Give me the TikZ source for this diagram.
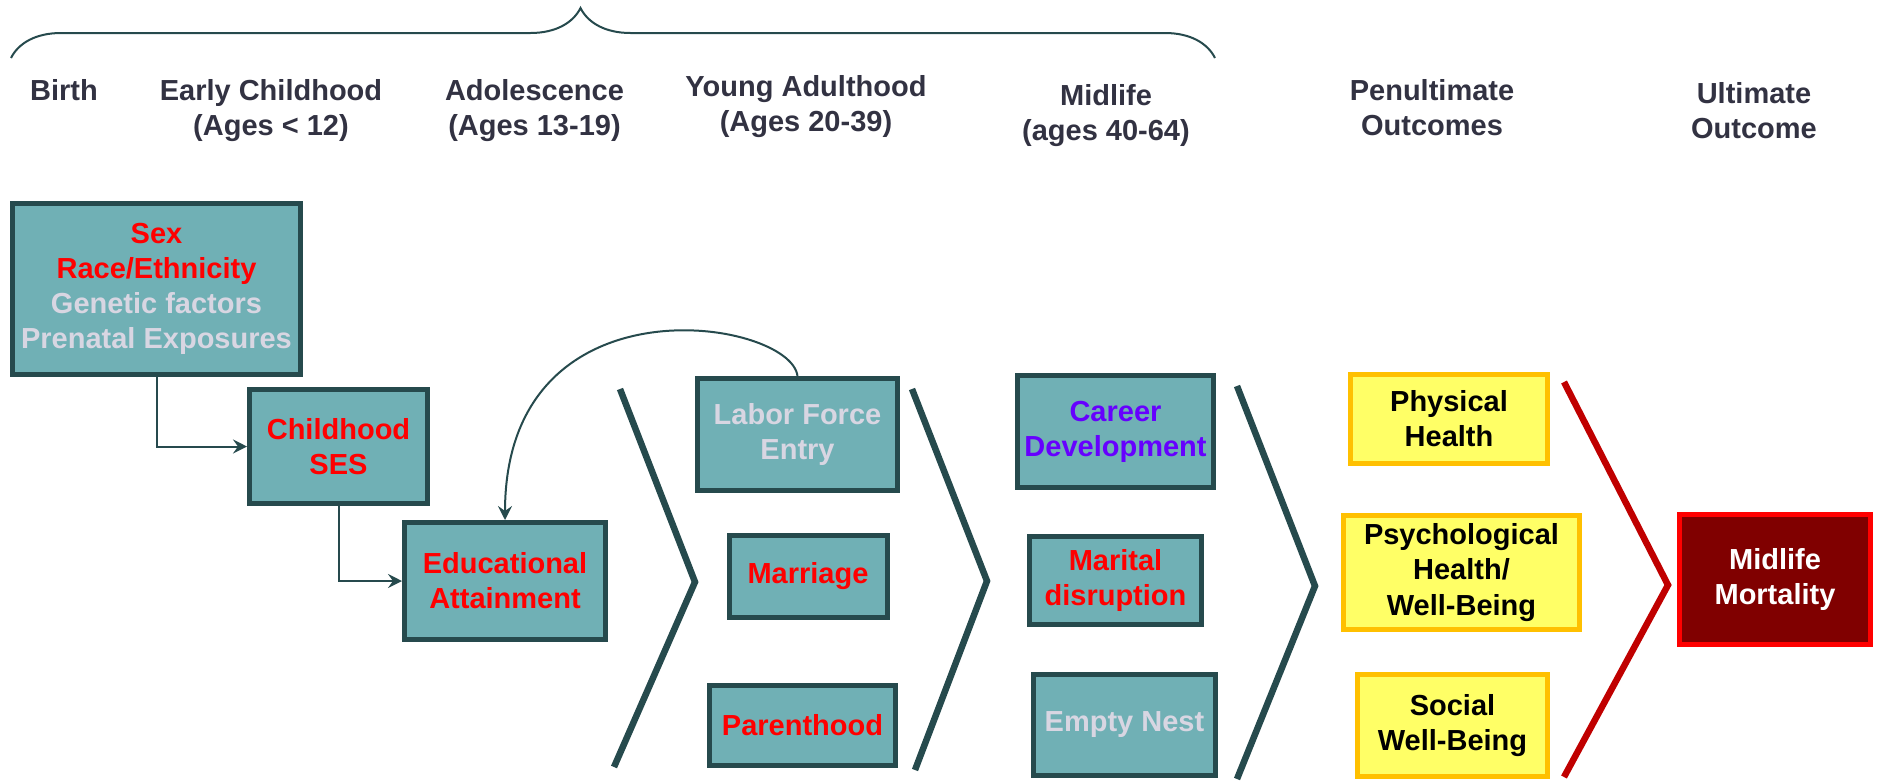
\documentclass[tikz,border=0pt]{standalone}
\usepackage{fontspec}
\setmainfont{Liberation Sans}
\usepackage{xcolor}
\usetikzlibrary{arrows.meta,decorations.pathreplacing}

\definecolor{boxfill}{RGB}{112,176,181}
\definecolor{boxline}{RGB}{38,74,77}
\definecolor{headtext}{RGB}{50,50,66}
\definecolor{softtext}{RGB}{216,214,226}
\definecolor{purp}{RGB}{102,0,255}
\definecolor{lemon}{RGB}{255,255,102}
\definecolor{gold}{RGB}{255,192,0}
\definecolor{mortfill}{RGB}{128,0,0}
\definecolor{chevred}{RGB}{192,0,0}

\begin{document}
\begin{tikzpicture}[
    font={\fontsize{8.25}{10}\selectfont\bfseries},
    head/.style={text=headtext, align=center, inner sep=0pt},
    stage/.style={draw=boxline, fill=boxfill, line width=0.05cm, align=center, inner sep=0pt},
    outc/.style={draw=gold, fill=lemon, line width=0.05cm, align=center, inner sep=0pt},
    link/.style={draw=boxline, line width=0.02cm, -{Stealth[length=0.14cm, width=0.14cm, inset=0.05cm]}},
    chev/.style={draw=boxline, line width=0.065cm},
]
    \useasboundingbox (0,0) rectangle (18.78,7.81);

    \draw[draw=boxline, line width=0.02cm, decorate, decoration={brace, amplitude=0.5cm, aspect=0.473}] (0.11,7.23) -- (12.15,7.23);

    \node[head] (birth) at (0.64,6.905) {Birth};
    \node[head] (early) at (2.71,6.705) {Early Childhood\\(Ages < 12)};
    \node[head] (adol) at (5.345,6.705) {Adolescence\\(Ages 13-19)};
    \node[head] (young) at (8.06,6.745) {Young Adulthood\\(Ages 20-39)};
    \node[head] (mid) at (11.06,6.655) {Midlife\\(ages 40-64)};
    \node[head] (penult) at (14.32,6.735) {Penultimate\\Outcomes};
    \node[head] (ult) at (17.54,6.705) {Ultimate\\Outcome};

    \node[stage, minimum width=2.88cm, minimum height=1.71cm] (sex) at (1.565,4.92) {\textcolor{red}{Sex}\\\textcolor{red}{Race/Ethnicity}\\\textcolor{softtext}{Genetic factors}\\\textcolor{softtext}{Prenatal Exposures}};
    \node[stage, text=red, minimum width=1.78cm, minimum height=1.14cm] (chses) at (3.385,3.345) {Childhood\\SES};
    \node[stage, text=red, minimum width=2.01cm, minimum height=1.17cm] (edu) at (5.05,2.00) {Educational\\Attainment};

    \node[stage, text=softtext, minimum width=2.00cm, minimum height=1.12cm] (lfe) at (7.975,3.465) {Labor Force\\Entry};
    \node[stage, text=red, minimum width=1.58cm, minimum height=0.82cm] (marr) at (8.08,2.045) {Marriage};
    \node[stage, text=red, minimum width=1.86cm, minimum height=0.80cm] (parent) at (8.025,0.555) {Parenthood};

    \node[stage, text=purp, minimum width=1.96cm, minimum height=1.12cm] (career) at (11.155,3.495) {Career\\Development};
    \node[stage, text=red, minimum width=1.72cm, minimum height=0.88cm] (marit) at (11.155,2.005) {Marital\\disruption};
    \node[stage, text=softtext, minimum width=1.82cm, minimum height=1.01cm] (nest) at (11.245,0.56) {Empty Nest};

    \node[outc, minimum width=1.97cm, minimum height=0.89cm] (phys) at (14.49,3.62) {Physical\\Health};
    \node[outc, minimum width=2.36cm, minimum height=1.14cm] (psych) at (14.615,2.085) {Psychological\\Health/\\Well-Being};
    \node[outc, minimum width=1.90cm, minimum height=1.02cm] (social) at (14.525,0.555) {Social\\Well-Being};

    \node[draw=red, fill=mortfill, text=white, line width=0.05cm, align=center, inner sep=0pt, minimum width=1.91cm, minimum height=1.30cm] (mort) at (17.75,2.015) {Midlife\\Mortality};

    \draw[link] (sex.south) |- (chses.west);
    \draw[link] (chses.south) |- (edu.west);
    \draw[link] (lfe.north) .. controls +(-0.07,0.57) and +(0,2.47) .. (edu.north);

    \draw[chev] (6.20,3.92) -- (6.95,1.99) -- (6.14,0.14);
    \draw[chev] (9.12,3.92) -- (9.87,2.00) -- (9.15,0.11);
    \draw[chev] (12.37,3.95) -- (13.15,1.95) -- (12.37,0.02);
    \draw[chev, draw=chevred] (15.64,3.99) -- (16.68,1.96) -- (15.64,0.04);
\end{tikzpicture}
\end{document}
